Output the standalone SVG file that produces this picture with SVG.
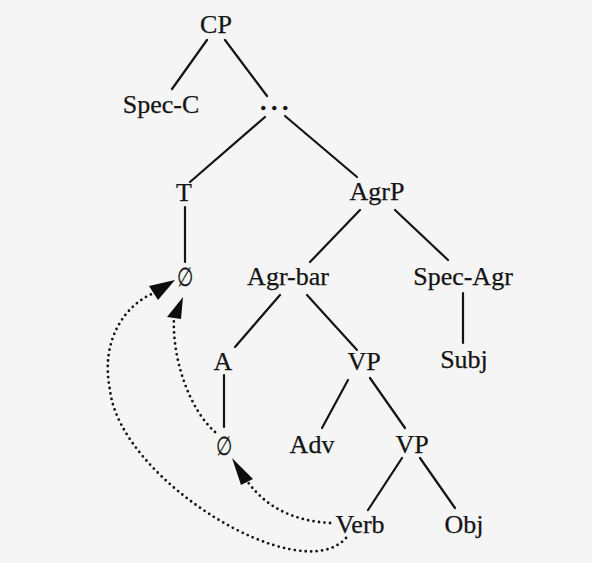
<svg xmlns="http://www.w3.org/2000/svg" width="592" height="563" viewBox="0 0 592 563">
<style>
text{font-family:"Liberation Serif","Times New Roman",serif;font-size:26px;fill:#141414;text-anchor:middle;stroke:#141414;stroke-width:0.25}
.e{stroke:#141414;stroke-width:2.2;fill:none;stroke-linecap:round}
.d{stroke:#141414;stroke-width:2.8;fill:none;stroke-dasharray:0 5.5;stroke-linecap:round}
.h{fill:#0d0d0d}
</style>
<rect width="592" height="563" fill="#f5f5f5"/>
<g id="connectors">
<line class="e" x1="207" y1="40" x2="172" y2="89"/>
<line class="e" x1="225" y1="40" x2="267" y2="96"/>
<line class="e" x1="265" y1="117" x2="190" y2="182"/>
<line class="e" x1="285" y1="116" x2="357" y2="177"/>
<line class="e" x1="185" y1="207" x2="185" y2="262"/>
<line class="e" x1="360" y1="210" x2="310" y2="262"/>
<line class="e" x1="395" y1="210" x2="448" y2="260"/>
<line class="e" x1="463" y1="293" x2="463" y2="343"/>
<line class="e" x1="280" y1="295" x2="235" y2="347"/>
<line class="e" x1="307" y1="295" x2="357" y2="350"/>
<line class="e" x1="224" y1="375" x2="224" y2="427"/>
<line class="e" x1="348" y1="380" x2="322" y2="428"/>
<line class="e" x1="370" y1="378" x2="405" y2="428"/>
<line class="e" x1="402" y1="458" x2="368" y2="510"/>
<line class="e" x1="420" y1="458" x2="455" y2="508"/>
<path class="d" d="M330,523 Q275,520 247,481"/>
<polygon class="h" points="232,458 241,485 253,479"/>
<path class="d" d="M346,538 C300,590 120,480 110,390 C100,340 125,305 154,293"/>
<polygon class="h" points="175,280 149,286 158,300"/>
<path class="d" d="M215,432 C190,410 172,360 174,318"/>
<polygon class="h" points="183,297 167,317 181,319"/>
</g>
<g id="n-cp"><text x="216" y="33">CP</text></g>
<g id="n-specc"><text x="161" y="113">Spec-C</text></g>
<g id="n-dots"><text x="260 271 282" y="110" style="text-anchor:start;font-weight:bold">...</text></g>
<g id="n-t"><text x="184" y="201">T</text></g>
<g id="n-agrp"><text x="377" y="200">AgrP</text></g>
<g id="n-null1"><text transform="translate(185,286) scale(0.72,1)">∅</text></g>
<g id="n-agrbar"><text x="288" y="285">Agr-bar</text></g>
<g id="n-specagr"><text x="463" y="285">Spec-Agr</text></g>
<g id="n-a"><text x="223" y="370">A</text></g>
<g id="n-vp1"><text x="364" y="370">VP</text></g>
<g id="n-subj"><text x="464" y="368">Subj</text></g>
<g id="n-null2"><text transform="translate(224,455) scale(0.72,1)">∅</text></g>
<g id="n-adv"><text x="312" y="453">Adv</text></g>
<g id="n-vp2"><text x="412" y="453">VP</text></g>
<g id="n-verb"><text x="360" y="533">Verb</text></g>
<g id="n-obj"><text x="464" y="533">Obj</text></g>
</svg>
